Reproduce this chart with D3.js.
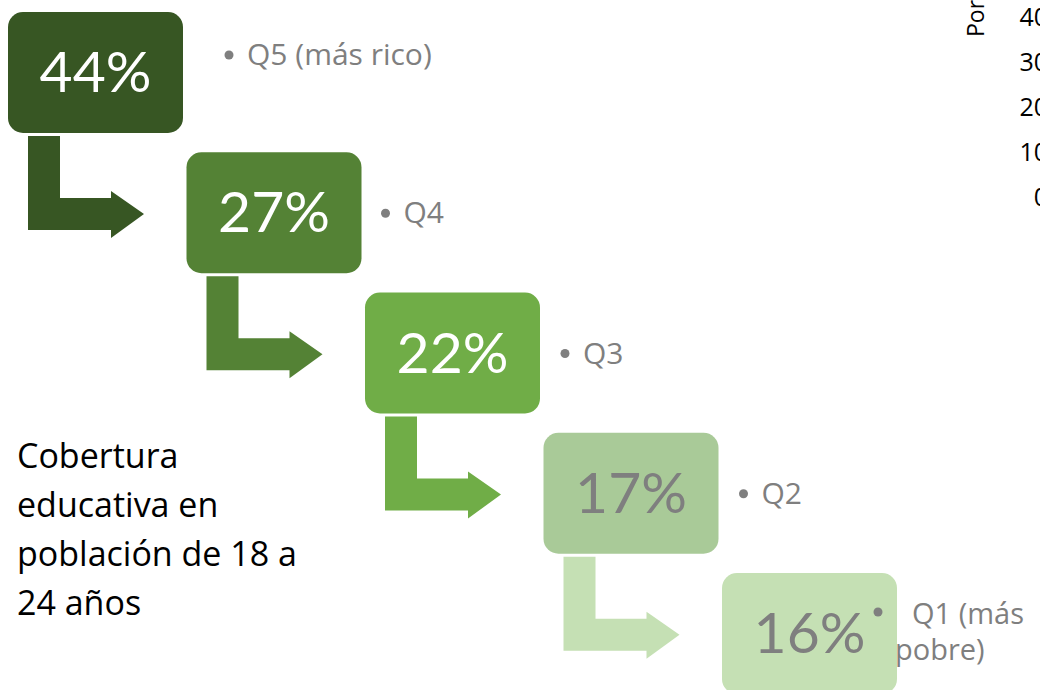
<!DOCTYPE html>
<html>
<head>
<meta charset="utf-8">
<script src="https://cdn.jsdelivr.net/npm/d3@7"></script>
<style>
  body { margin: 0; background: #fff; }
  svg { display: block; font-family: "Open Sans", sans-serif; }
</style>
</head>
<body>
<script>
// data
var quintiles = ["Q5 (más rico)", "Q4", "Q3", "Q2", "Q1 (más pobre)"];
var coverage = [44, 27, 22, 17, 16];
var titleLines = ["Cobertura", "educativa en", "población de 18 a", "24 años"];
var axisTicks = [0, 10, 20, 30, 40];
var axisTitle = "Porcentaje";

var boxColors = ["#375623", "#548235", "#70AD47", "#A9CA98", "#C5E0B4"];
var arrowColors = ["#375623", "#548235", "#70AD47", "#C5E0B4"];
var textColors = ["#fff", "#fff", "#fff", "#7F7F7F", "#7F7F7F"];

var svg_width = 1040;
var svg_height = 690;

var svg = d3.select("body")
  .append("svg")
  .attr("width", svg_width)
  .attr("height", svg_height);

var boxW = 175, boxH = 121;

var xStep = d3.scaleLinear().domain([0, 4]).range([8, 722]);
var yStep = d3.scaleLinear().domain([0, 4]).range([12, 573]);

// bent arrows between steps
var arrowGroup = svg.append("g");
arrowGroup.selectAll("path")
  .data(coverage.slice(0, 4))
  .enter()
  .append("path")
  .attr("fill", (d, i) => arrowColors[i])
  .attr("d", function(d, i) {
    var x0 = xStep(i), yb = yStep(i) + boxH;
    var p = d3.path();
    p.moveTo(x0 + 20, yb + 3);
    p.lineTo(x0 + 52, yb + 3);
    p.lineTo(x0 + 52, yb + 65);
    p.lineTo(x0 + 103, yb + 65);
    p.lineTo(x0 + 103, yb + 58);
    p.lineTo(x0 + 136, yb + 81);
    p.lineTo(x0 + 103, yb + 105);
    p.lineTo(x0 + 103, yb + 97);
    p.lineTo(x0 + 20, yb + 97);
    p.closePath();
    return p.toString();
  });

// step boxes
var steps = svg.selectAll("g.step")
  .data(coverage)
  .enter()
  .append("g")
  .attr("class", "step")
  .attr("transform", (d, i) => `translate(${xStep(i)}, ${yStep(i)})`);

steps.append("rect")
  .attr("width", boxW)
  .attr("height", boxH)
  .attr("rx", 15)
  .attr("fill", (d, i) => boxColors[i]);

steps.append("text")
  .attr("x", boxW / 2)
  .attr("y", 80)
  .attr("text-anchor", "middle")
  .style("font-family", "Lato, sans-serif")
  .style("font-size", "57px")
  .attr("fill", (d, i) => textColors[i])
  .text(d => d + "%");

// bullet labels
var labelDx = [46, 24, 25, 25, -19];
var labelDy = [43, 61, 61, 61, 39];

var labels = svg.selectAll("g.label")
  .data(quintiles)
  .enter()
  .append("g")
  .attr("class", "label")
  .attr("transform", (d, i) => `translate(${xStep(i) + boxW + labelDx[i]}, ${yStep(i) + labelDy[i]})`);

labels.append("circle")
  .attr("r", 4.5)
  .attr("fill", "#7F7F7F");

labels.each(function(d, i) {
  var t = d3.select(this).append("text")
    .attr("fill", "#7F7F7F")
    .style("font-size", "30px");
  if (i == 4) {
    // last label wraps onto two lines
    t.style("font-size", "29px");
    t.append("tspan").attr("x", 34).attr("y", 12).text("Q1 (más");
    t.append("tspan").attr("x", 17).attr("y", 48).text("pobre)");
  } else {
    t.attr("x", 18).attr("y", 10).text(d);
  }
});

// title
svg.append("text")
  .attr("fill", "#000")
  .style("font-size", "34px")
  .selectAll("tspan")
  .data(titleLines)
  .enter()
  .append("tspan")
  .attr("x", 17)
  .attr("y", (d, i) => 468 + i * 49)
  .text(d => d);

// cut-off axis on the right
var yAxisScale = d3.scaleLinear().domain([0, 40]).range([197, 17]);
var leftAxis = d3.axisLeft(yAxisScale).tickValues(axisTicks).tickSize(0).tickPadding(0);

var axisG = svg.append("g")
  .attr("transform", "translate(1048, 0)")
  .call(leftAxis);
axisG.select(".domain").remove();
axisG.selectAll("text")
  .style("font-family", "'Open Sans', sans-serif")
  .style("font-size", "25px")
  .attr("fill", "#000");

svg.append("text")
  .attr("transform", "translate(984, 37) rotate(-90)")
  .style("font-size", "23px")
  .attr("fill", "#000")
  .text(axisTitle);
</script>
</body>
</html>
